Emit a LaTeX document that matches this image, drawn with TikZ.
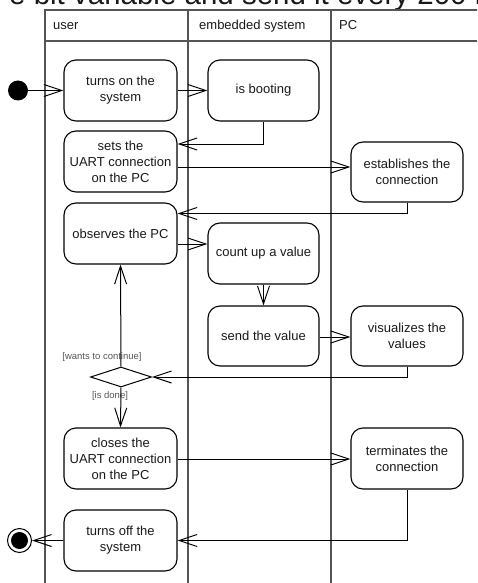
\documentclass[tikz,border=0pt]{standalone}
\usepackage{fontspec}
\setmainfont{Liberation Sans}
\usetikzlibrary{arrows.meta,shapes.geometric}
\definecolor{lanecol}{RGB}{85,85,85}
\definecolor{txtcol}{RGB}{25,25,25}
\tikzset{
  act/.style={draw=black, line width=1.1pt, rounded corners=12pt, inner sep=0pt,
    align=center, text=txtcol, font=\fontsize{13}{16}\selectfont},
  wide/.style={minimum width=113pt, minimum height=61pt},
  lane/.style={draw=lanecol, line width=1.1pt},
  flow/.style={draw=black, line width=1pt,
    -{Straight Barb[length=18pt,width=12pt,line width=1pt]}},
  guard/.style={font=\fontsize{9.5}{11}\selectfont, text=lanecol, inner sep=0pt},
  head/.style={font=\fontsize{13}{16}\selectfont, text=txtcol, anchor=base west, inner sep=0pt},
}
\begin{document}
\begin{tikzpicture}[x=1pt,y=-1pt]
\useasboundingbox (0,0) rectangle (477,583);
\clip (0,0) rectangle (477,583);
% title (clipped)
\node[anchor=base west, inner sep=0pt, font=\fontsize{29.5}{34}\selectfont, text=txtcol] (title) at (9,5) {e bit variable and send it every 200 ms};
% swimlanes
\draw[lane] (45,583) -- (45,10) -- (480,10);
\draw[lane] (45,41) -- (480,41);
\draw[lane] (188,10) -- (188,583);
\draw[lane] (331,10) -- (331,583);
\node[head] (hu) at (53,30) {user};
\node[head] (he) at (199,30) {embedded system};
\node[head] (hp) at (339,30) {PC};
% start / end
\node[circle, fill=black, minimum size=20pt, inner sep=0pt] (start) at (18,90.5) {};
\node[circle, draw=black, line width=1pt, fill=white, minimum size=24pt, inner sep=0pt] (endo) at (19.5,540.5) {};
\node[circle, fill=black, minimum size=17pt, inner sep=0pt] (endi) at (19.5,540.5) {};
% activities
\node[act, wide] (turnon) at (120.5,90.5) {turns on the\\system};
\node[act, minimum width=111pt, minimum height=61pt] (boot) at (263.5,90.5) {is booting};
\node[act, wide] (sets) at (120.5,161.5) {sets the\\UART connection\\on the PC};
\node[act, minimum width=112pt, minimum height=60pt] (estab) at (407,172) {establishes the\\connection};
\node[act, wide] (obs) at (120.5,233.5) {observes the PC};
\node[act, minimum width=111pt, minimum height=61pt] (count) at (263.5,253.5) {count up a value};
\node[act, minimum width=111pt, minimum height=60pt] (send) at (263.5,336) {send the value};
\node[act, minimum width=112pt, minimum height=60pt] (vis) at (407,336) {visualizes the\\values};
\node[act, wide] (closes) at (120.5,458.5) {closes the\\UART connection\\on the PC};
\node[act, minimum width=112pt, minimum height=61pt] (term) at (407,458.5) {terminates the\\connection};
\node[act, wide] (off) at (120.5,540.5) {turns off the\\system};
% decision
\node[diamond, draw=black, line width=1pt, minimum width=61pt, minimum height=20pt, inner sep=0pt, shape aspect=3] (dec) at (121,377) {};
\node[guard] (gcont) at (102,357) {[wants to continue]};
\node[guard] (gdone) at (110,396) {[is done]};
% flows
\draw[flow] (start.east) -- (turnon.west);
\draw[flow] (turnon.east) -- (boot.west);
\draw[flow] (boot.south) |- (sets.east |- 0,144);
\draw[flow] (sets.east |- 0,167) -- (estab.west |- 0,167);
\draw[flow] (estab.south) |- (obs.east |- 0,213.5);
\draw[flow] (obs.east |- 0,244) -- (count.west |- 0,244);
\draw[flow] (count.south) -- (send.north);
\draw[flow] (send.east |- 0,337) -- (vis.west |- 0,337);
\draw[flow] (vis.south) |- (dec.east);
\draw[flow] (dec.north) -- (obs.south);
\draw[flow] (dec.south) -- (closes.north);
\draw[flow] (closes.east |- 0,459) -- (term.west |- 0,459);
\draw[flow] (term.south) |- (off.east);
\draw[flow] (off.west) -- (endo.east);
\end{tikzpicture}
\end{document}
